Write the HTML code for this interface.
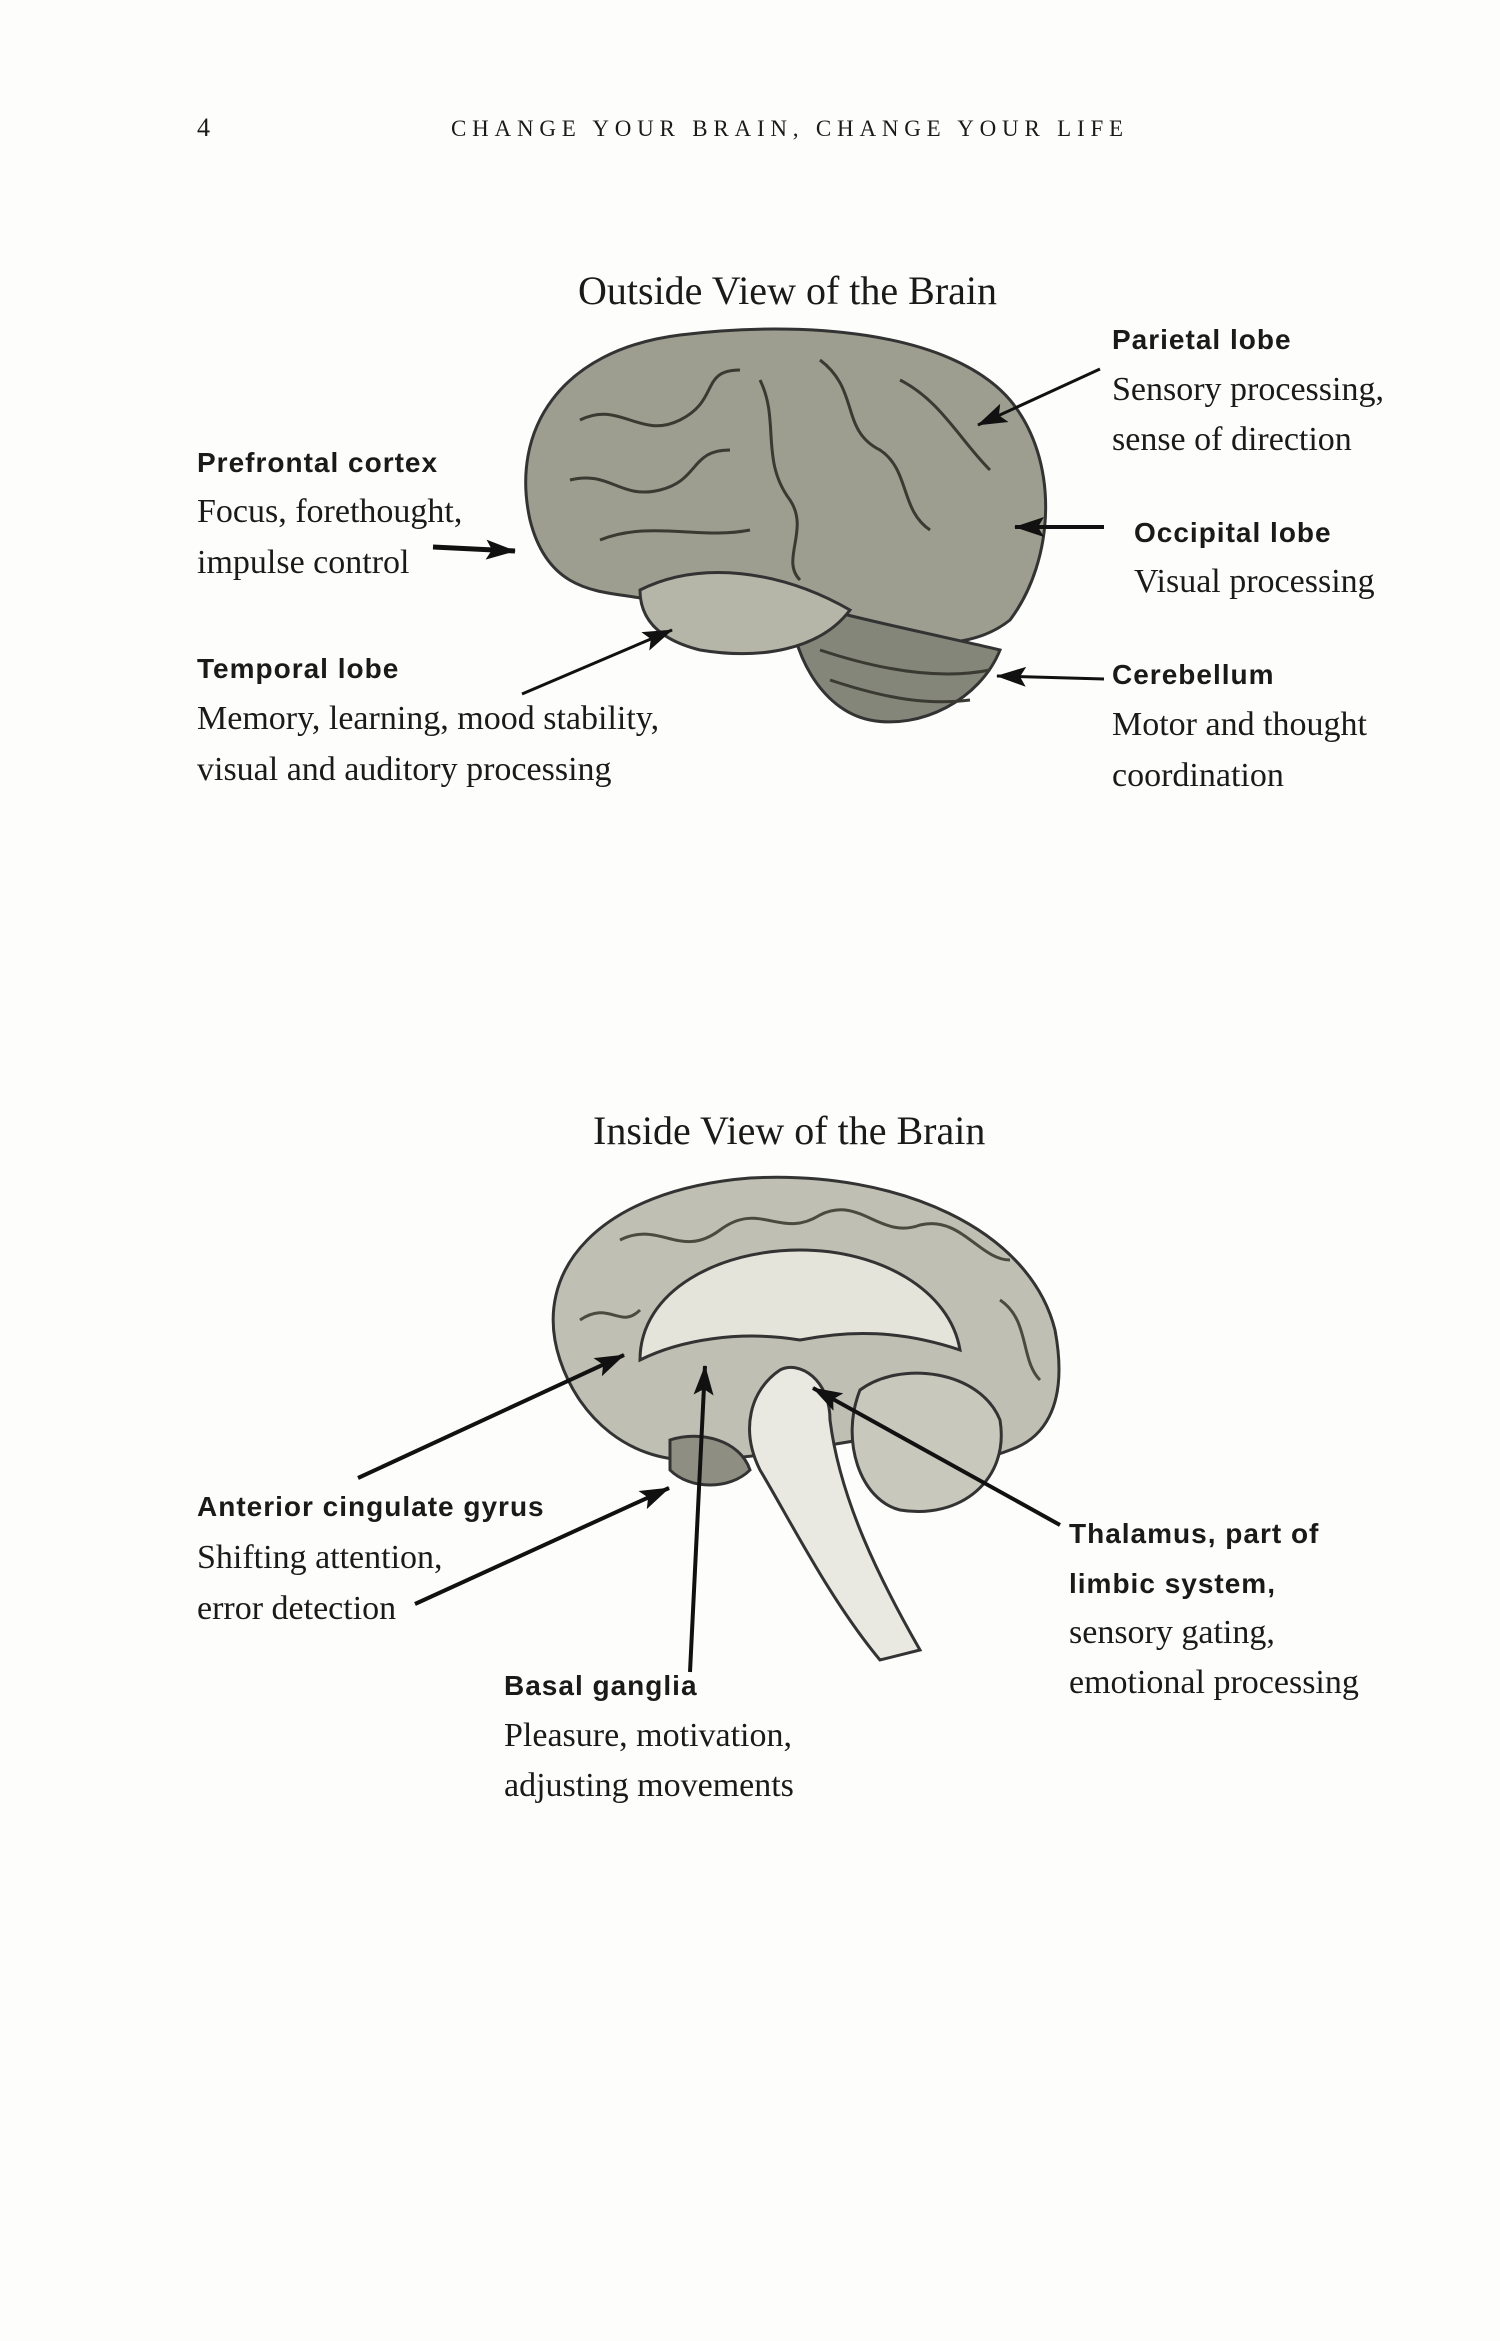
<!DOCTYPE html>
<html><head><meta charset="utf-8"><style>
body{margin:0;width:1500px;height:2341px;background:#fdfdfb;position:relative;overflow:hidden;color:#1a1a1a}
.t{position:absolute;white-space:nowrap;font-family:"Liberation Serif",serif;font-size:34px;line-height:1}
.b{position:absolute;white-space:nowrap;font-family:"Liberation Sans",sans-serif;font-weight:bold;font-size:28px;letter-spacing:1px;line-height:1}
svg{position:absolute;left:0;top:0}
</style></head><body>
<svg width="1500" height="2341" viewBox="0 0 1500 2341">
<defs>
<marker id="m" markerWidth="30" markerHeight="20" refX="29" refY="10" orient="auto" markerUnits="userSpaceOnUse"><path d="M0,0L30,10L0,20L6,10z" fill="#111"/></marker></defs>
<!-- outside brain -->
<g stroke="#333" stroke-width="3">
<path d="M530,520 C510,430 560,350 680,335 C800,320 950,330 1010,400 C1060,460 1055,560 1010,620 C960,660 880,640 820,620 C760,640 690,630 650,600 C610,590 550,600 530,520z" fill="#9d9e90"/>
<path d="M790,600 C860,620 960,640 1000,650 C980,700 920,730 870,720 C820,710 790,650 790,600z" fill="#85867a"/>
<path d="M640,590 C700,560 780,570 850,610 C820,650 760,660 700,650 C660,640 640,620 640,590z" fill="#b5b5a8"/>
</g>
<g stroke="#3a3a32" stroke-width="3" fill="none">
<path d="M580,420 C620,400 640,440 680,420 C720,400 700,370 740,370"/>
<path d="M570,480 C610,470 620,500 660,490 C700,480 690,450 730,450"/>
<path d="M760,380 C780,420 760,460 790,500 C810,530 780,560 800,580"/>
<path d="M820,360 C860,390 840,430 880,450 C910,470 900,510 930,530"/>
<path d="M900,380 C940,400 960,440 990,470"/>
<path d="M600,540 C650,520 700,540 750,530"/>
<path d="M820,650 C880,670 940,680 990,670"/><path d="M830,680 C890,700 930,705 970,700"/>
</g>
<!-- inside brain -->
<g stroke="#333" stroke-width="3">
<path d="M560,1360 C530,1270 600,1190 750,1178 C900,1170 1030,1230 1055,1330 C1070,1410 1040,1440 1010,1450 C960,1470 900,1460 860,1440 C800,1450 740,1460 690,1460 C630,1460 580,1420 560,1360z" fill="#bfc0b3"/>
<path d="M640,1360 C640,1290 720,1250 800,1250 C880,1250 950,1290 960,1350 C900,1330 850,1330 800,1340 C740,1330 680,1340 640,1360z" fill="#e4e4da"/>
<path d="M860,1390 C900,1360 980,1370 1000,1420 C1010,1480 960,1520 900,1510 C860,1500 840,1440 860,1390z" fill="#c8c8bc"/>
<path d="M780,1370 C800,1360 830,1380 830,1420 C840,1500 880,1580 920,1650 L880,1660 C830,1600 790,1520 760,1470 C740,1430 750,1390 780,1370z" fill="#e9e9e1"/>
<path d="M670,1440 C700,1430 740,1440 750,1470 C730,1490 690,1490 670,1470z" fill="#8e8f82"/>
</g>
<g stroke="#4a4a40" stroke-width="3" fill="none">
<path d="M620,1240 C660,1220 680,1260 720,1230 C760,1200 780,1240 820,1215 C860,1195 880,1240 920,1225 C960,1215 980,1260 1010,1260"/>
<path d="M580,1320 C610,1300 620,1330 640,1310"/><path d="M1000,1300 C1030,1320 1020,1360 1040,1380"/>
</g>
<!-- arrows -->
<g stroke="#111" stroke-width="3" fill="none">
<line x1="1100" y1="369" x2="978" y2="425" marker-end="url(#m)"/>
<line x1="433" y1="547" x2="515" y2="551" stroke-width="5" marker-end="url(#m)"/>
<line x1="1104" y1="527" x2="1015" y2="527" stroke-width="4" marker-end="url(#m)"/>
<line x1="522" y1="694" x2="672" y2="630" marker-end="url(#m)"/>
<line x1="1104" y1="679" x2="997" y2="676" marker-end="url(#m)"/>
<line x1="358" y1="1478" x2="624" y2="1355" stroke-width="4" marker-end="url(#m)"/>
<line x1="415" y1="1604" x2="669" y2="1488" stroke-width="4" marker-end="url(#m)"/>
<line x1="690" y1="1672" x2="705" y2="1366" stroke-width="4" marker-end="url(#m)"/>
<line x1="1060" y1="1525" x2="813" y2="1388" stroke-width="4" marker-end="url(#m)"/>
</g>
</svg>
<div class="t" style="left:197px;top:115px;font-size:26px">4</div>
<div class="t" style="left:451px;top:117px;font-size:23px;letter-spacing:5.8px">CHANGE YOUR BRAIN, CHANGE YOUR LIFE</div>
<div class="t" style="left:578px;top:271px;font-size:40px">Outside View of the Brain</div>
<div class="b" style="left:1112px;top:326px">Parietal lobe</div>
<div class="t" style="left:1112px;top:373px">Sensory processing,</div>
<div class="t" style="left:1112px;top:423px">sense of direction</div>
<div class="b" style="left:197px;top:449px">Prefrontal cortex</div>
<div class="t" style="left:197px;top:495px">Focus, forethought,</div>
<div class="t" style="left:197px;top:546px">impulse control</div>
<div class="b" style="left:1134px;top:519px">Occipital lobe</div>
<div class="t" style="left:1134px;top:565px">Visual processing</div>
<div class="b" style="left:197px;top:655px">Temporal lobe</div>
<div class="t" style="left:197px;top:702px">Memory, learning, mood stability,</div>
<div class="t" style="left:197px;top:753px">visual and auditory processing</div>
<div class="b" style="left:1112px;top:661px">Cerebellum</div>
<div class="t" style="left:1112px;top:708px">Motor and thought</div>
<div class="t" style="left:1112px;top:759px">coordination</div>
<div class="t" style="left:593px;top:1111px;font-size:40px">Inside View of the Brain</div>
<div class="b" style="left:197px;top:1493px">Anterior cingulate gyrus</div>
<div class="t" style="left:197px;top:1541px">Shifting attention,</div>
<div class="t" style="left:197px;top:1592px">error detection</div>
<div class="b" style="left:504px;top:1672px">Basal ganglia</div>
<div class="t" style="left:504px;top:1719px">Pleasure, motivation,</div>
<div class="t" style="left:504px;top:1769px">adjusting movements</div>
<div class="b" style="left:1069px;top:1520px">Thalamus, part of</div>
<div class="b" style="left:1069px;top:1570px">limbic system,</div>
<div class="t" style="left:1069px;top:1616px">sensory gating,</div>
<div class="t" style="left:1069px;top:1666px">emotional processing</div>
</body></html>
